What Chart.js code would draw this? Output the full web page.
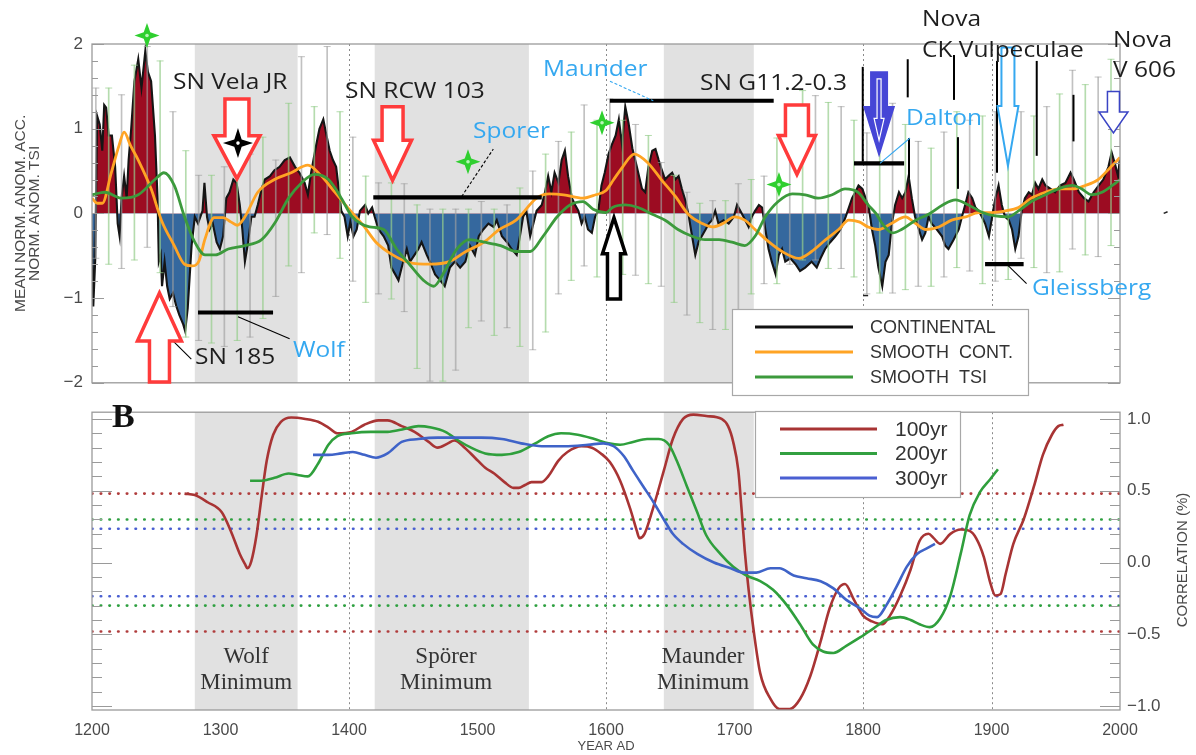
<!DOCTYPE html>
<html>
<head>
<meta charset="utf-8">
<script src="https://cdn.jsdelivr.net/npm/chart.js@4.4.1/dist/chart.umd.min.js"></script>
<style>
  html, body { margin: 0; padding: 0; background: #fff; }
  #wrap { position: relative; width: 1196px; height: 755px; overflow: hidden; background: #fff; }
  #cTop { position: absolute; left: 0; top: 0; }
  #cBot { position: absolute; left: 0; top: 395px; }
</style>
</head>
<body>
<div id="wrap">
  <canvas id="cTop" width="1196" height="402"></canvas>
  <canvas id="cBot" width="1196" height="360"></canvas>
</div>
<script>
// ---------------- data ----------------
// Continental accumulation anomaly (annual-ish samples)
const contYears = [
  1200,1201,1202.5,1204,1206,1208,1209.5,1211,1213,1215.5,
  1218,1220,1221.5,1223,1225,1227,1228.5,1230.5,1233,1236,
  1238.5,1241.5,1243.5,1246,1249,1251,1252,1253.5,1254.5,1256.5,
  1258.5,1260.5,1263,1265.5,1268,1271,1272.5,1274.5,1277.5,1280,
  1282.5,1286,1287.5,1289.5,1291.5,1294,1297,1299.5,1302,1304.5,
  1307,1310,1312.5,1315,1317,1319,1321.5,1324,1326.5,1329,
  1332,1334.5,1338.5,1342,1346,1350,1354,1358,1361.5,1365.5,
  1368,1370.5,1374.5,1377,1380,1382.5,1385,1387.5,1390,1394,
  1396.5,1399,1401,1403.5,1406,1408.5,1412.5,1415,1418,1420,
  1423,1427,1430.5,1433,1436,1438.5,1441,1445,1447.5,1451,
  1454,1456.5,1460.5,1463,1467,1471,1474.5,1478.5,1482.5,1486.5,
  1490.5,1494,1498,1501,1504.5,1508.5,1512.5,1515,1519,1523,
  1526.5,1530.5,1533,1535.5,1538,1541,1543.5,1546,1550,1552.5,
  1555,1557.5,1560,1563,1565.5,1568,1570.5,1573.5,1576,1578.5,
  1581,1583.5,1586,1589,1591.5,1594,1596.5,1599,1602,1604.5,
  1607.5,1610,1612.5,1615,1617.5,1620.5,1624,1628,1630.5,1633,
  1636,1638.5,1641,1643.5,1646,1648.5,1651.5,1654,1656.5,1659,
  1662,1664.5,1667,1669.5,1672,1674.5,1677.5,1680,1682.5,1685,
  1687.5,1691.5,1695.5,1699.5,1702,1704.5,1707,1711,1713.5,1716,
  1719,1721.5,1724,1726.5,1729,1732,1734.5,1737,1739.5,1743.5,
  1747.5,1751,1755,1760,1764,1767,1770.5,1774.5,1778.5,1782.5,
  1786.5,1789,1791.5,1794,1796.5,1799.5,1802,1804.5,1807,1809.5,
  1812,1815,1817.5,1820,1822.5,1825,1828,1830.5,1833,1835.5,
  1838,1840.5,1843.5,1846,1848.5,1851,1853.5,1857.5,1861.5,1864,
  1866.5,1870.5,1874.5,1877,1879.5,1882,1885,1887.5,1890,1892.5,
  1895,1898,1900.5,1903,1905.5,1908,1910.5,1913.5,1916,1918.5,
  1921,1923.5,1926,1929,1931.5,1934,1936.5,1939.5,1942,1946,
  1949.5,1953.5,1957.5,1961.5,1964,1968,1972,1975.5,1979.5,1983.5,
  1987,1991,1993.5,1996,1998.5,2000
];
const contValues = [
  -0.2,-1.1,-0.55,1.15,1.05,0.74,1.28,1.25,0.92,0.92,
  0.55,-0.12,-0.27,0.18,0.44,0.18,0.63,1.0,1.56,1.82,
  1.48,1.92,1.67,1.56,0.92,0.18,-0.57,-0.49,-0.86,-0.57,
  -0.86,-1.01,-0.94,-1.09,-1.2,-1.31,-1.39,-1.12,-0.38,-0.04,
  -0.12,0.03,0.36,-0.04,-0.19,-0.12,-0.34,-0.42,-0.27,0.18,
  0.25,0.40,0.36,0.10,-0.19,-0.57,-0.34,-0.04,-0.04,0.10,
  0.29,0.40,0.44,0.51,0.55,0.63,0.66,0.55,0.48,0.36,
  0.22,0.48,0.81,1.0,1.11,0.92,0.74,0.63,0.55,0.03,
  -0.04,-0.27,-0.1,-0.27,-0.19,0.03,0.10,0.0,0.07,-0.04,
  -0.19,-0.27,-0.38,-0.64,-0.72,-0.79,-0.64,-0.42,-0.57,-0.49,
  -0.42,-0.34,-0.49,-0.57,-0.72,-0.79,-0.86,-0.64,-0.57,-0.64,
  -0.57,-0.38,-0.49,-0.27,-0.19,-0.12,-0.16,-0.08,-0.27,-0.34,
  -0.42,-0.49,-0.27,-0.04,0.03,-0.27,-0.12,0.03,0.10,0.25,
  0.44,0.25,0.48,0.36,0.63,0.74,0.44,0.18,0.10,0.03,
  -0.12,-0.04,-0.19,-0.23,-0.04,0.03,0.33,0.48,0.70,0.81,
  0.92,1.11,0.81,1.26,1.07,0.77,0.55,0.29,0.25,0.55,
  0.74,0.76,0.63,0.51,0.40,0.44,0.48,0.40,0.44,0.29,
  0.14,-0.04,-0.27,-0.49,-0.34,-0.27,-0.19,-0.12,-0.08,0.03,
  -0.12,-0.08,-0.12,-0.04,0.10,0.03,-0.04,-0.16,-0.04,0.03,
  0.10,0.07,-0.19,-0.42,-0.57,-0.72,-0.49,-0.42,-0.57,-0.53,
  -0.60,-0.68,-0.64,-0.57,-0.64,-0.53,-0.42,-0.34,-0.27,-0.19,
  -0.04,0.07,0.18,0.25,0.33,0.29,0.18,0.07,-0.19,-0.38,
  -0.64,-0.86,-0.57,-0.49,-0.12,0.10,0.25,0.18,0.25,0.44,
  0.18,-0.04,-0.19,-0.31,-0.23,-0.04,-0.12,-0.19,-0.27,-0.38,
  -0.42,-0.31,-0.19,-0.04,0.10,0.25,0.18,0.07,0.03,-0.04,
  -0.12,-0.27,-0.04,0.18,0.33,0.10,-0.04,-0.08,-0.19,-0.42,
  -0.27,0.03,0.18,0.25,0.22,0.36,0.29,0.40,0.33,0.29,
  0.25,0.33,0.36,0.48,0.40,0.25,0.18,0.14,0.25,0.33,
  0.40,0.55,0.72,0.59,0.44,0.66
];

// Smoothed continental series
const smoothYears = [
  1200,1204,1208,1215,1221,1225,1230,1236,1246,1254,
  1264,1272,1278,1283,1288,1295,1302,1308,1313,1319,
  1329,1342,1355,1368,1378,1389,1400,1412,1421,1434,
  1447,1463,1478,1491,1505,1517,1530,1546,1556,1567,
  1582,1592,1600,1606,1613,1622,1633,1643,1654,1664,
  1675,1683,1691,1700,1708,1716,1727,1737,1750,1760,
  1771,1781,1789,1797,1804,1812,1822,1833,1841,1849,
  1859,1869,1880,1890,1900,1911,1921,1931,1942,1952,
  1963,1973,1983,1993,2000
];
const smoothValues = [
  0.18,0.12,0.12,0.48,0.80,0.96,0.80,0.63,0.29,-0.08,
  -0.38,-0.60,-0.62,-0.57,-0.30,-0.05,-0.05,-0.10,-0.14,-0.04,
  0.25,0.40,0.48,0.57,0.45,0.25,0.05,-0.16,-0.34,-0.49,
  -0.58,-0.60,-0.57,-0.45,-0.34,-0.19,-0.08,0.18,0.23,0.22,
  0.18,0.22,0.27,0.40,0.55,0.70,0.59,0.40,0.20,-0.01,
  -0.12,-0.16,-0.12,-0.04,-0.08,-0.19,-0.34,-0.45,-0.53,-0.45,
  -0.31,-0.19,-0.08,-0.10,-0.16,-0.19,-0.12,-0.04,-0.12,-0.19,
  -0.16,-0.08,-0.04,0.01,0.01,0.03,0.07,0.18,0.25,0.29,
  0.29,0.33,0.40,0.55,0.66
];

// Smoothed TSI series
const tsiYears = [
  1200,1210,1223,1236,1249,1256,1264,1272,1280,1288,
  1296,1306,1319,1332,1342,1353,1363,1373,1384,1394,
  1402,1409,1416,1427,1437,1447,1458,1466,1473,1484,
  1494,1505,1518,1530,1541,1551,1562,1572,1582,1590,
  1600,1605,1615,1625,1636,1646,1656,1667,1677,1688,
  1698,1708,1716,1724,1734,1745,1755,1765,1776,1786,
  1796,1804,1810,1815,1823,1830,1841,1851,1862,1872,
  1882,1893,1903,1913,1921,1931,1942,1952,1963,1970,
  1978,1986,1994,2000
];
const tsiValues = [
  0.22,0.25,0.18,0.22,0.40,0.48,0.33,-0.04,-0.34,-0.49,
  -0.49,-0.42,-0.38,-0.31,-0.12,0.18,0.36,0.46,0.40,0.18,
  -0.03,-0.12,-0.16,-0.19,-0.42,-0.60,-0.79,-0.86,-0.72,-0.42,
  -0.31,-0.34,-0.38,-0.45,-0.45,-0.27,-0.04,0.10,0.14,0.05,
  0.01,0.07,0.10,0.07,-0.01,-0.08,-0.19,-0.27,-0.31,-0.31,
  -0.34,-0.38,-0.27,-0.04,0.14,0.23,0.22,0.18,0.22,0.29,
  0.25,0.10,0.0,-0.12,-0.23,-0.19,-0.08,-0.01,0.10,0.16,
  0.10,0.01,-0.03,-0.04,0.03,0.14,0.22,0.29,0.33,0.29,
  0.22,0.25,0.33,0.40
];

// Uncertainty ranges
const errYears = [
  1203,1213,1223,1233,1243,1253,1263,1273,1283,1293,
  1303,1313,1323,1333,1343,1353,1363,1373,1383,1393,
  1403,1413,1423,1433,1443,1453,1463,1473,1483,1493,
  1503,1513,1523,1533,1543,1553,1563,1573,1583,1593,
  1603,1613,1623,1633,1643,1653,1663,1673,1683,1693,
  1703,1713,1723,1733,1743,1753,1763,1773,1783,1793,
  1803,1813,1823,1833,1843,1853,1863,1873,1883,1893,
  1903,1913,1923,1933,1943,1953,1963,1973,1983,1993
];
const errLow = [
  -0.53,-0.60,-0.65,-0.55,-0.40,-0.70,-1.10,-1.46,-1.50,-1.53,
  -1.57,-1.50,-1.46,-1.24,-0.98,-0.62,-0.70,-0.23,-0.25,-0.53,
  -0.80,-1.05,-0.95,-1.01,-1.16,-1.83,-1.98,-1.98,-1.85,-1.35,
  -1.27,-1.44,-1.35,-1.57,-1.61,-1.40,-0.95,-0.79,-0.62,-0.75,
  -0.70,-0.72,-0.73,-0.83,-0.86,-1.05,-1.20,-1.29,-1.37,-1.37,
  -1.15,-0.95,-0.83,-0.83,-0.60,-0.55,-0.55,-0.65,-0.65,-0.75,
  -0.95,-0.94,-0.94,-0.90,-0.86,-0.86,-0.75,-0.64,-0.68,-0.83,
  -0.80,-0.78,-0.53,-0.64,-0.70,-0.69,-0.42,-0.49,-0.51,-0.38
];
const errHigh = [
  1.48,1.48,1.40,1.75,1.97,1.80,1.20,0.74,0.45,0.45,
  0.55,0.60,0.70,0.90,0.63,1.30,1.85,1.26,1.97,1.20,
  0.90,0.44,0.36,0.36,0.35,0.10,0.05,0.05,0.05,0.05,
  0.14,0.05,0.10,0.30,0.50,0.70,0.85,0.96,1.28,1.10,
  1.35,1.10,1.05,0.92,0.60,0.45,0.25,0.12,0.15,0.15,
  0.35,0.40,0.44,0.89,1.18,1.45,1.39,1.31,1.26,1.10,
  0.95,1.10,1.30,1.05,0.85,0.77,0.96,1.20,1.10,1.15,
  1.20,0.95,1.20,1.15,1.26,1.41,1.69,1.52,1.61,1.82
];

// Running correlations (panel B)
const corr100Years = [
  1272,1280,1290,1301,1308,1315,1319,1321,1324,1328,
  1332,1336,1341,1347,1355,1366,1376,1384,1391,1402,
  1412,1423,1430,1441,1451,1462,1469,1477,1482,1490,
  1498,1506,1513,1521,1528,1532,1537,1542,1550,1555,
  1563,1570,1581,1589,1596,1603,1611,1619,1624,1626,
  1630,1637,1645,1652,1660,1668,1678,1690,1695,1699,
  1703,1705.5,1708,1711,1715,1720,1728,1735,1743,1751,
  1759,1767,1774,1781,1786,1793,1800,1807,1815,1821,
  1829,1837,1844,1851,1855,1860,1868,1876,1883,1888,
  1894,1899,1903,1907,1911,1917,1925,1933,1940,1947,
  1952,1956
];
const corr100 = [
  0.48,0.47,0.42,0.35,0.22,0.06,-0.01,-0.04,0.01,0.19,
  0.46,0.71,0.89,0.98,1.01,1.0,0.98,0.94,0.90,0.91,
  0.96,0.99,0.99,0.95,0.91,0.84,0.80,0.83,0.85,0.80,
  0.73,0.66,0.62,0.56,0.52,0.52,0.54,0.56,0.56,0.60,
  0.71,0.77,0.81,0.80,0.76,0.70,0.57,0.37,0.22,0.17,
  0.20,0.39,0.64,0.86,1.0,1.03,1.02,1.0,0.95,0.84,
  0.64,0.37,0.08,-0.19,-0.48,-0.77,-0.95,-1.02,-1.02,-0.95,
  -0.79,-0.55,-0.32,-0.18,-0.15,-0.26,-0.37,-0.41,-0.43,-0.37,
  -0.23,-0.05,0.15,0.20,0.17,0.13,0.20,0.23,0.22,0.17,
  0.04,-0.14,-0.23,-0.22,-0.08,0.13,0.30,0.53,0.75,0.89,
  0.95,0.96
];
const corr200Years = [
  1323,1332,1342,1353,1360,1368,1376,1384,1391,1402,
  1417,1430,1443,1454,1464,1475,1485,1495,1506,1519,
  1532,1545,1555,1565,1578,1591,1602,1611,1621,1632,
  1641,1649,1655,1663,1671,1678,1689,1699,1709,1720,
  1730,1741,1751,1761,1769,1777,1787,1798,1808,1818,
  1829,1837,1844,1852,1860,1868,1876,1883,1891,1899,
  1905
];
const corr200 = [
  0.57,0.57,0.59,0.62,0.61,0.60,0.69,0.82,0.88,0.90,
  0.91,0.91,0.93,0.95,0.94,0.91,0.85,0.80,0.76,0.75,
  0.77,0.83,0.88,0.90,0.89,0.86,0.83,0.82,0.84,0.86,
  0.86,0.82,0.71,0.53,0.35,0.19,0.06,-0.03,-0.09,-0.13,
  -0.19,-0.30,-0.43,-0.57,-0.62,-0.63,-0.58,-0.52,-0.46,-0.40,
  -0.38,-0.40,-0.43,-0.45,-0.39,-0.23,0.06,0.33,0.49,0.58,
  0.65
];
const corr300Years = [
  1372,1384,1394,1403,1412,1421,1430,1441,1454,1469,
  1485,1503,1519,1534,1550,1568,1586,1598,1606,1614,
  1621,1629,1637,1645,1652,1660,1671,1684,1697,1707,
  1717,1728,1735,1746,1756,1767,1777,1787,1798,1805,
  1811,1818,1826,1834,1842,1850,1856
];
const corr300 = [
  0.75,0.75,0.76,0.77,0.75,0.73,0.76,0.84,0.86,0.87,
  0.87,0.87,0.86,0.83,0.81,0.81,0.82,0.83,0.81,0.74,
  0.64,0.53,0.42,0.30,0.20,0.13,0.06,0.0,-0.04,-0.07,
  -0.07,-0.04,-0.04,-0.09,-0.11,-0.13,-0.18,-0.26,-0.32,-0.37,
  -0.38,-0.30,-0.17,-0.03,0.06,0.10,0.13
];
// Significance levels for each window length
const sig100 = [0.48, -0.48];
const sig200 = [0.30, -0.30];
const sig300 = [0.235, -0.235];

// Solar grand minima
const minimaNames = [['Wolf', 'Minimum'], ['Spörer', 'Minimum'], ['Maunder', 'Minimum']];
const minimaStart = [1280, 1420, 1645];
const minimaEnd = [1360, 1540, 1715];

// Axis ticks
const yearTicks = [1200, 1300, 1400, 1500, 1600, 1700, 1800, 1900, 2000];
const anomTicks = [-2, -1, 0, 1, 2];
const corrTicks = [-1, -0.5, 0, 0.5, 1];
const dottedYears = [1400, 1600, 1800, 1900];

// ---------------- styling helpers ----------------
const AX_FONT = '"Liberation Sans", Arial, sans-serif';
const NOTE_FONT = '"Open Sans", "Noto Sans", sans-serif';
const SERIF = '"Liberation Serif", "Times New Roman", serif';
const AX_COLOR = '#4a4a4a';
const FRAME = '#9a9a9a';
const LIGHT_BLUE = '#35a8f0';
const RED_ARROW = '#ff3b3b';

const fmtSigned = (v, d) => (v < 0 ? '\u2212' : '') + Math.abs(v).toFixed(d);
const pts = (xs, ys) => xs.map((x, i) => ({ x, y: ys[i] }));
const flat = (v) => [{ x: 1200, y: v }, { x: 2000, y: v }];

function arrowPath(ctx, cx, yTail, yTip, sw, hw, hl) {
  const d = Math.sign(yTip - yTail);
  const yb = yTip - d * hl;
  ctx.beginPath();
  ctx.moveTo(cx - sw / 2, yTail);
  ctx.lineTo(cx + sw / 2, yTail);
  ctx.lineTo(cx + sw / 2, yb);
  ctx.lineTo(cx + hw / 2, yb);
  ctx.lineTo(cx, yTip);
  ctx.lineTo(cx - hw / 2, yb);
  ctx.lineTo(cx - sw / 2, yb);
  ctx.closePath();
}

function sparkle(ctx, cx, cy, R, r, fill, dot) {
  ctx.beginPath();
  for (let i = 0; i < 8; i++) {
    const a = i * Math.PI / 4 - Math.PI / 2;
    const rad = i % 2 === 0 ? R : r;
    ctx.lineTo(cx + rad * Math.cos(a), cy + rad * Math.sin(a));
  }
  ctx.closePath();
  ctx.fillStyle = fill;
  ctx.fill();
  ctx.beginPath();
  ctx.arc(cx, cy, 1.8, 0, Math.PI * 2);
  ctx.fillStyle = dot;
  ctx.fill();
}

function note(ctx, text, x, y, color, size, stretch) {
  ctx.save();
  ctx.font = size + 'px ' + NOTE_FONT;
  ctx.fillStyle = color;
  ctx.textAlign = 'left';
  ctx.textBaseline = 'middle';
  ctx.translate(x, y);
  ctx.scale(stretch, 1);
  ctx.fillText(text, 0, 0);
  ctx.restore();
}

// shaded minima and dotted year markers, shared by both panels
const backdrop = {
  id: 'backdrop',
  beforeDatasetsDraw(chart) {
    const { ctx, chartArea: a, scales: { x } } = chart;
    ctx.save();
    ctx.fillStyle = '#e1e1e1';
    minimaStart.forEach((s, i) => {
      const x0 = x.getPixelForValue(s), x1 = x.getPixelForValue(minimaEnd[i]);
      ctx.fillRect(x0, a.top, x1 - x0, a.bottom - a.top);
    });
    ctx.strokeStyle = '#8a8a8a';
    ctx.lineWidth = 1;
    ctx.setLineDash([2, 3]);
    dottedYears.forEach(yr => {
      const px = Math.round(x.getPixelForValue(yr)) + 0.5;
      ctx.beginPath(); ctx.moveTo(px, a.top); ctx.lineTo(px, a.bottom); ctx.stroke();
    });
    ctx.restore();
  }
};

// box around a panel with inward tick marks on both sides
function framePlugin(scaleId, major, minorStep, majorLen, minorLen) {
  return {
    id: 'frame_' + scaleId,
    afterDatasetsDraw(chart) {
      const { ctx, chartArea: a } = chart;
      const y = chart.scales[scaleId];
      ctx.save();
      ctx.strokeStyle = FRAME;
      ctx.lineWidth = 1.3;
      ctx.strokeRect(a.left, a.top, a.right - a.left, a.bottom - a.top);
      ctx.lineWidth = 1.1;
      const lo = Math.ceil(y.min / minorStep), hi = Math.floor(y.max / minorStep);
      for (let k = lo; k <= hi; k++) {
        const v = k * minorStep;
        const isMajor = major.some(m => Math.abs(m - v) < 1e-6);
        const len = isMajor ? majorLen : minorLen;
        const py = Math.round(y.getPixelForValue(v)) + 0.5;
        ctx.beginPath();
        ctx.moveTo(a.left, py); ctx.lineTo(a.left + len, py);
        ctx.moveTo(a.right, py); ctx.lineTo(a.right - len, py);
        ctx.stroke();
      }
      ctx.restore();
    }
  };
}

// ---------------- upper panel annotations ----------------
const topNotes = {
  id: 'topNotes',
  afterDraw(chart) {
    const { ctx, scales: { x, y } } = chart;
    const X = v => x.getPixelForValue(v), Y = v => y.getPixelForValue(v);
    ctx.save();

    // dark reference strokes near the nova markers
    ctx.strokeStyle = '#000'; ctx.lineWidth = 2;
    [[1799.8, 1.73, 0.61], [1834.8, 1.82, 1.37], [1835.8, 0.89, 0.42], [1870.8, 1.87, 1.34],
     [1873.9, 0.90, 0.29], [1904.3, 1.80, 0.48], [1935.2, 1.80, 0.68], [1963.8, 1.40, 0.85]]
      .forEach(([yr, a, b]) => { ctx.beginPath(); ctx.moveTo(X(yr), Y(a)); ctx.lineTo(X(yr), Y(b)); ctx.stroke(); });

    // period bars
    ctx.lineWidth = 4.2; ctx.lineCap = 'butt';
    [[1282.5, 1340.9, -1.17], [1418.9, 1550, 0.19], [1603, 1730.5, 1.33], [1793, 1832, 0.59], [1895, 1925, -0.60]]
      .forEach(([a, b, v]) => { ctx.beginPath(); ctx.moveTo(X(a), Y(v)); ctx.lineTo(X(b), Y(v)); ctx.stroke(); });

    // leader lines
    const leaders = [
      [1313.6, -1.22, 1353.8, -1.48, '#000', []],
      [1251.4, -1.33, 1277.3, -1.72, '#000', []],
      [1487.7, 0.20, 1512.3, 0.76, '#000', [3, 2]],
      [1603.1, 1.56, 1636.8, 1.33, LIGHT_BLUE, [3, 2]],
      [1813.2, 0.59, 1836.6, 0.89, LIGHT_BLUE, []],
      [1911.8, -0.60, 1927.3, -0.83, '#000', []]
    ];
    ctx.lineWidth = 1.1;
    leaders.forEach(([x0, y0, x1, y1, c, dash]) => {
      ctx.strokeStyle = c; ctx.setLineDash(dash);
      ctx.beginPath(); ctx.moveTo(X(x0), Y(y0)); ctx.lineTo(X(x1), Y(y1)); ctx.stroke();
    });
    ctx.setLineDash([]);

    // hollow arrows
    const arrows = [
      { yr: 1312.8, from: 1.35, to: 0.41, sw: 24, hw: 46, hl: 43, c: RED_ARROW, lw: 3.5 },
      { yr: 1433.9, from: 1.26, to: 0.39, sw: 21, hw: 38, hl: 40, c: RED_ARROW, lw: 3.5 },
      { yr: 1748.6, from: 1.28, to: 0.46, sw: 23, hw: 37, hl: 39, c: RED_ARROW, lw: 3.5 },
      { yr: 1252.5, from: -1.99, to: -0.94, sw: 20, hw: 44, hl: 48, c: RED_ARROW, lw: 3.5 },
      { yr: 1606.2, from: -1.01, to: -0.05, sw: 13, hw: 23, hl: 36, c: '#000', lw: 3.5 },
      { yr: 1912.8, from: 1.96, to: 0.56, sw: 13, hw: 21, hl: 60, c: LIGHT_BLUE, lw: 2 },
      { yr: 1994.9, from: 1.44, to: 0.95, sw: 12, hw: 29, hl: 21, c: '#3a44c4', lw: 1.5 }
    ];
    ctx.lineJoin = 'miter';
    arrows.forEach(a => {
      arrowPath(ctx, X(a.yr), Y(a.from), Y(a.to), a.sw, a.hw, a.hl);
      ctx.fillStyle = '#fff'; ctx.fill();
      ctx.strokeStyle = a.c; ctx.lineWidth = a.lw; ctx.stroke();
    });
    // solid blue arrow with a light core
    {
      const cx = X(1812.5), y0 = Y(1.66), y1 = Y(0.72);
      arrowPath(ctx, cx, y0, y1, 15, 28, 45);
      ctx.fillStyle = '#4646d6'; ctx.fill();
      ctx.strokeStyle = '#4646d6'; ctx.lineWidth = 3; ctx.stroke();
      arrowPath(ctx, cx, y0 + 6, y1 - 12, 4, 10, 22);
      ctx.strokeStyle = '#ffffff'; ctx.lineWidth = 1.2; ctx.stroke();
    }

    // star markers
    [[1242.8, 2.10], [1492.6, 0.61], [1596.9, 1.07], [1734.6, 0.34]]
      .forEach(([yr, v]) => sparkle(ctx, X(yr), Y(v), 12.5, 4.6, '#2fcf2f', '#b8f5b8'));
    sparkle(ctx, X(1313.6), Y(0.83), 15, 5.2, '#000', '#fff');

    // small stray marks
    ctx.strokeStyle = '#222'; ctx.lineWidth = 1.5;
    ctx.beginPath(); ctx.moveTo(X(2034), Y(0)); ctx.lineTo(X(2037), Y(0.02)); ctx.stroke();
    ctx.beginPath(); ctx.moveTo(X(1800), Y(-0.97)); ctx.lineTo(X(1804), Y(-0.97)); ctx.stroke();

    // labels
    const dark = '#1e1e1e';
    const S = 1.14, FS = 21.5;
    note(ctx, 'SN Vela JR', X(1263), Y(1.54), dark, FS, S);
    note(ctx, 'SN RCW 103', X(1396.9), Y(1.44), dark, FS, S);
    note(ctx, 'Sporer', X(1496.5), Y(0.96), LIGHT_BLUE, FS, S);
    note(ctx, 'Maunder', X(1551), Y(1.70), LIGHT_BLUE, FS, S);
    note(ctx, 'SN G11.2-0.3', X(1673.2), Y(1.53), dark, FS, S);
    note(ctx, 'Nova', X(1845.9), Y(2.29), dark, FS, S);
    note(ctx, 'CK Vulpeculae', X(1845.9), Y(1.92), dark, FS, S);
    note(ctx, 'Nova', X(1994.6), Y(2.04), dark, FS, S);
    note(ctx, 'V 606', X(1994.6), Y(1.68), dark, FS, S);
    note(ctx, 'Dalton', X(1833.5), Y(1.12), LIGHT_BLUE, FS, S);
    note(ctx, 'Gleissberg', X(1931.5), Y(-0.89), LIGHT_BLUE, FS, S);
    note(ctx, 'Wolf', X(1356.4), Y(-1.62), LIGHT_BLUE, FS, S);
    note(ctx, 'SN 185', X(1280.2), Y(-1.71), dark, FS, S);

    // legend
    const lx = 732, ly = 309, lw = 296, lh = 86;
    ctx.fillStyle = '#fff'; ctx.fillRect(lx, ly, lw, lh);
    ctx.strokeStyle = '#a8a8a8'; ctx.lineWidth = 1.2; ctx.strokeRect(lx + 0.5, ly + 0.5, lw, lh);
    const items = [['CONTINENTAL', '#111'], ['SMOOTH  CONT.', '#ffa424'], ['SMOOTH  TSI', '#3c9a3c']];
    ctx.font = '18px ' + AX_FONT; ctx.textBaseline = 'middle'; ctx.textAlign = 'left';
    items.forEach(([t, c], i) => {
      const yy = ly + 18 + i * 25;
      ctx.strokeStyle = c; ctx.lineWidth = 3;
      ctx.beginPath(); ctx.moveTo(lx + 23, yy); ctx.lineTo(lx + 121, yy); ctx.stroke();
      ctx.fillStyle = '#333'; ctx.fillText(t, lx + 138, yy + 1);
    });
    ctx.restore();
  }
};

// ---------------- lower panel annotations ----------------
const botNotes = {
  id: 'botNotes',
  beforeDatasetsDraw(chart) {
    const { ctx, scales: { x, y } } = chart;
    const centers = [1320, 1475.5, 1675.5];
    ctx.save();
    ctx.font = '23px ' + SERIF; ctx.fillStyle = '#333';
    ctx.textAlign = 'center'; ctx.textBaseline = 'middle';
    minimaNames.forEach((lines, i) => {
      ctx.fillText(lines[0], x.getPixelForValue(centers[i]), y.getPixelForValue(-0.66));
      ctx.fillText(lines[1], x.getPixelForValue(centers[i]), y.getPixelForValue(-0.84));
    });
    ctx.restore();
  },
  afterDraw(chart) {
    const { ctx } = chart;
    ctx.save();
    // panel letter
    ctx.font = 'bold 34px ' + SERIF; ctx.fillStyle = '#111';
    ctx.textAlign = 'left'; ctx.textBaseline = 'alphabetic';
    ctx.fillText('B', 112, 32);
    // right axis title, reading upwards
    ctx.save();
    ctx.translate(1183, 165); ctx.rotate(-Math.PI / 2);
    ctx.font = '15px ' + AX_FONT; ctx.fillStyle = AX_COLOR;
    ctx.textAlign = 'center'; ctx.textBaseline = 'middle';
    ctx.fillText('CORRELATION (%)', 0, 0);
    ctx.restore();
    // legend
    const lx = 755, ly = 16, lw = 205, lh = 86;
    ctx.fillStyle = '#fff'; ctx.fillRect(lx, ly, lw, lh);
    ctx.strokeStyle = '#a8a8a8'; ctx.lineWidth = 1.2; ctx.strokeRect(lx + 0.5, ly + 0.5, lw, lh);
    const items = [['100yr', '#a83434'], ['200yr', '#32a040'], ['300yr', '#4a5fd2']];
    ctx.font = '21px ' + AX_FONT; ctx.textBaseline = 'middle';
    items.forEach(([t, c], i) => {
      const yy = ly + 18 + i * 24.5;
      ctx.strokeStyle = c; ctx.lineWidth = 3;
      ctx.beginPath(); ctx.moveTo(lx + 25, yy); ctx.lineTo(lx + 122, yy); ctx.stroke();
      ctx.fillStyle = '#333'; ctx.fillText(t, lx + 140, yy + 1);
    });
    ctx.restore();
  }
};

// ---------------- upper panel ----------------
const gridOff = { display: false, drawTicks: false, offset: false };
const GRAY_BAR = 'rgba(160,160,160,0.65)';
const GREEN_BAR = 'rgba(150,205,140,0.7)';
const capPts = errYears.flatMap((x, i) => [{ x, y: errLow[i] }, { x, y: errHigh[i] }]);

new Chart(document.getElementById('cTop'), {
  type: 'line',
  data: {
    datasets: [
      {
        label: 'CONTINENTAL', data: pts(contYears, contValues),
        borderColor: '#151515', borderWidth: 2.1, pointRadius: 0, tension: 0,
        fill: { target: { value: 0 }, above: '#9c0c22', below: '#35689e' }, order: 6
      },
      {
        type: 'bar', label: 'range', data: errYears.map((x, i) => ({ x, y: [errLow[i], errHigh[i]] })),
        backgroundColor: c => (c.dataIndex % 2 ? GREEN_BAR : GRAY_BAR),
        borderWidth: 0, barThickness: 1, grouped: false, order: 5
      },
      {
        type: 'scatter', label: 'caps', data: capPts, showLine: false,
        pointStyle: 'line', pointRadius: 3.5, pointBorderWidth: 1,
        pointBorderColor: c => (Math.floor(c.dataIndex / 2) % 2 ? GREEN_BAR : GRAY_BAR), order: 5
      },
      {
        label: 'SMOOTH CONT.', data: pts(smoothYears, smoothValues), borderColor: '#ffa424',
        borderWidth: 2.8, pointRadius: 0, cubicInterpolationMode: 'monotone', fill: false, order: 2
      },
      {
        label: 'SMOOTH TSI', data: pts(tsiYears, tsiValues), borderColor: '#3c9a3c',
        borderWidth: 2.8, pointRadius: 0, cubicInterpolationMode: 'monotone', fill: false, order: 1
      }
    ]
  },
  options: {
    responsive: false, animation: false, events: [],
    layout: { padding: { left: 0, right: 76, top: 44, bottom: 0 } },
    plugins: { legend: { display: false }, tooltip: { enabled: false } },
    scales: {
      x: { type: 'linear', min: 1200, max: 2000, offset: false, display: false, grid: gridOff },
      y: {
        type: 'linear', min: -2, max: 2, beginAtZero: false,
        afterBuildTicks: s => { s.ticks = anomTicks.map(v => ({ value: v })); },
        afterFit: s => { s.width = 92; },
        ticks: { callback: v => fmtSigned(v, 0), font: { family: AX_FONT, size: 17 }, color: AX_COLOR, padding: 9 },
        grid: gridOff, border: { display: false },
        title: {
          display: true, text: ['MEAN NORM. ANOM. ACC.', 'NORM. ANOM. TSI'],
          font: { family: AX_FONT, size: 15.5, lineHeight: 0.9 }, color: AX_COLOR, padding: { top: 14, bottom: 0 }
        }
      }
    }
  },
  plugins: [backdrop, framePlugin('y', anomTicks, 0.2, 12, 6), topNotes]
});

// ---------------- lower panel ----------------
const CORR_MIN = -1.027, CORR_MAX = 1.047;
const sigLine = (v, c) => ({
  data: flat(v), borderColor: c, borderWidth: 2.6, borderDash: [0.5, 8.2], borderCapStyle: 'round',
  pointRadius: 0, fill: false, yAxisID: 'y', order: 9
});
const curve = (xs, ys, c) => ({
  data: pts(xs, ys), borderColor: c, borderWidth: 2.6, pointRadius: 0,
  cubicInterpolationMode: 'monotone', fill: false, yAxisID: 'y', order: 1
});

new Chart(document.getElementById('cBot'), {
  type: 'line',
  data: {
    datasets: [
      sigLine(sig100[0], '#b03c3c'), sigLine(sig100[1], '#b03c3c'),
      sigLine(sig200[0], '#2ea040'), sigLine(sig200[1], '#2ea040'),
      sigLine(sig300[0], '#4a5fd2'), sigLine(sig300[1], '#4a5fd2'),
      curve(corr300Years, corr300, '#3f63c8'),
      curve(corr200Years, corr200, '#2f9f3c'),
      curve(corr100Years, corr100, '#a83434')
    ]
  },
  options: {
    responsive: false, animation: false, events: [],
    layout: { padding: { left: 0, right: 0, top: 6, bottom: 0 } },
    plugins: { legend: { display: false }, tooltip: { enabled: false } },
    scales: {
      x: {
        type: 'linear', min: 1200, max: 2000, offset: false, position: 'bottom',
        afterBuildTicks: s => { s.ticks = yearTicks.map(v => ({ value: v })); },
        afterFit: s => { s.height = 45; },
        ticks: { callback: v => String(v), font: { family: AX_FONT, size: 16 }, color: AX_COLOR, padding: 11, maxRotation: 0, autoSkip: false },
        grid: gridOff, border: { display: false },
        title: { display: true, text: 'YEAR AD', font: { family: AX_FONT, size: 13 }, color: AX_COLOR, padding: { top: 0, bottom: 1 } }
      },
      yL: {
        type: 'linear', position: 'left', min: CORR_MIN, max: CORR_MAX,
        afterFit: s => { s.width = 92; },
        ticks: { display: false }, grid: gridOff, border: { display: false }
      },
      y: {
        type: 'linear', position: 'right', min: CORR_MIN, max: CORR_MAX, beginAtZero: false,
        afterBuildTicks: s => { s.ticks = corrTicks.map(v => ({ value: v })); },
        afterFit: s => { s.width = 76; },
        ticks: { callback: v => fmtSigned(v, 1), font: { family: AX_FONT, size: 17 }, color: AX_COLOR, padding: 7 },
        grid: gridOff, border: { display: false }
      }
    }
  },
  plugins: [backdrop, botNotes, framePlugin('y', corrTicks, 0.1, 20, 10)]
});
</script>
</body>
</html>
